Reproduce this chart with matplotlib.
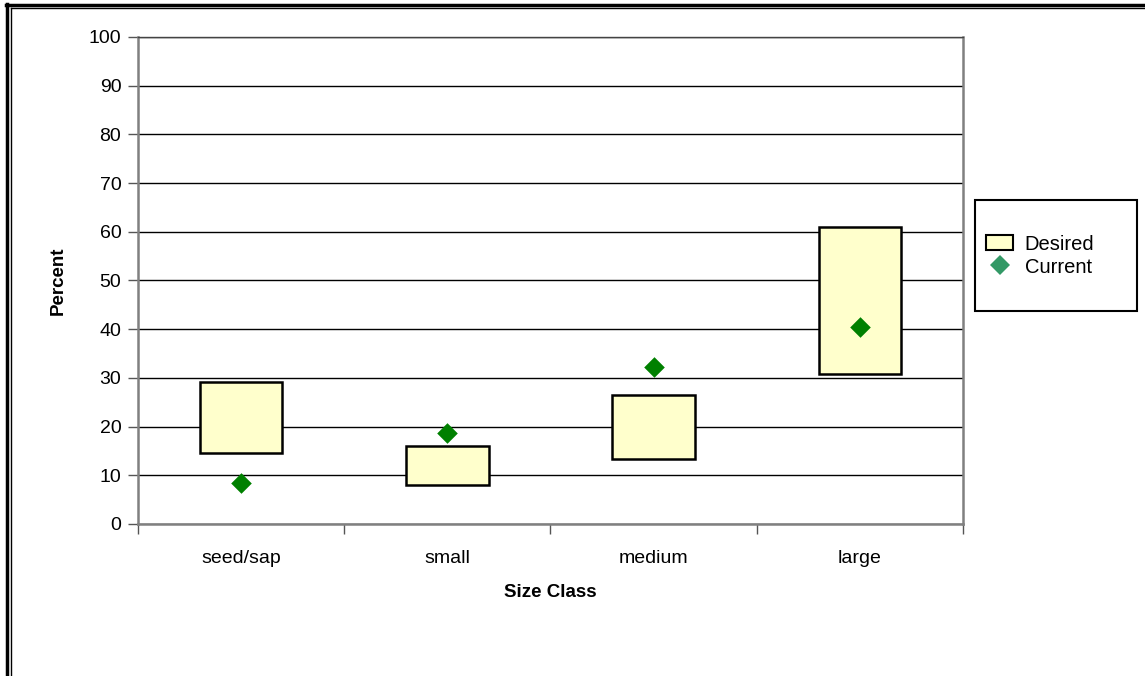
import matplotlib.pyplot as plt
from matplotlib.patches import Patch, Rectangle
from matplotlib.lines import Line2D
import numpy as np

plt.rcParams['font.family'] = ['Liberation Sans', 'DejaVu Sans']

categories = ['seed/sap', 'small', 'medium', 'large']
desired_low = [14.6, 8.0, 13.3, 30.7]
desired_high = [29.1, 16.0, 26.5, 60.9]
current = [8.5, 18.6, 32.2, 40.5]

fig = plt.figure(figsize=(11.45, 6.76), dpi=100)
ax = fig.add_axes([0.1205, 0.2249, 0.7205, 0.7204])

x = np.arange(len(categories))
heights = [h - l for l, h in zip(desired_low, desired_high)]
ax.bar(x, heights, bottom=desired_low, width=0.4, color='#FFFFCC',
       edgecolor='black', linewidth=1.8, zorder=3)
ax.scatter(x, current, marker='D', s=110, color='#008000', zorder=4,
           linewidths=0)

ax.set_xlim(-0.5, 3.5)
ax.set_ylim(0, 100)
ax.set_yticks(range(0, 101, 10))
ax.yaxis.grid(True, color='black', linewidth=1)
ax.set_axisbelow(True)

ax.set_xticks(x)
ax.set_xticklabels(categories)
ax.set_xticks(np.arange(-0.5, 4, 1), minor=True)
ax.tick_params(axis='x', which='major', length=0, pad=19, labelsize=14)
ax.tick_params(axis='x', which='minor', length=7, width=1, color='#555555')
ax.tick_params(axis='y', length=7, width=1, color='#555555', labelsize=14, pad=5)

for s in ['left', 'bottom', 'right']:
    ax.spines[s].set_color('#808080')
    ax.spines[s].set_linewidth(1.8)
ax.spines['top'].set_color('#444444')
ax.spines['top'].set_linewidth(1)

ax.set_xlabel('Size Class', fontsize=13.5, fontweight='bold', labelpad=12)
ax.set_ylabel('Percent', fontsize=13.5, fontweight='bold', labelpad=16)

# legend frame drawn separately so it can be sized like the original
fig.add_artist(Rectangle((0.8515, 0.54), 0.1415, 0.164, transform=fig.transFigure,
                         facecolor='white', edgecolor='black', linewidth=1.5))
handles = [Patch(facecolor='#FFFFCC', edgecolor='black', linewidth=1.5),
           Line2D([], [], marker='D', linestyle='', color='#339966', markersize=10,
                  markeredgewidth=0)]
leg = fig.legend(handles, ['Desired', 'Current'], loc='center left',
                 bbox_to_anchor=(0.8545, 0.622), fontsize=14.5,
                 frameon=False, handlelength=1.3, handleheight=0.8,
                 handletextpad=0.6, labelspacing=0.2, borderaxespad=0)

# outer double border (Excel chart frame)
fig.add_artist(Line2D([0.0065, 0.0065], [0, 0.994], color='black', lw=2.5,
                      transform=fig.transFigure))
fig.add_artist(Line2D([0.0092, 0.0092], [0, 0.988], color='black', lw=1,
                      transform=fig.transFigure))
fig.add_artist(Line2D([0.0055, 1], [0.993, 0.993], color='black', lw=2.5,
                      transform=fig.transFigure))
fig.add_artist(Line2D([0.0092, 1], [0.988, 0.988], color='black', lw=1,
                      transform=fig.transFigure))

fig.savefig('out.png', dpi=100)
